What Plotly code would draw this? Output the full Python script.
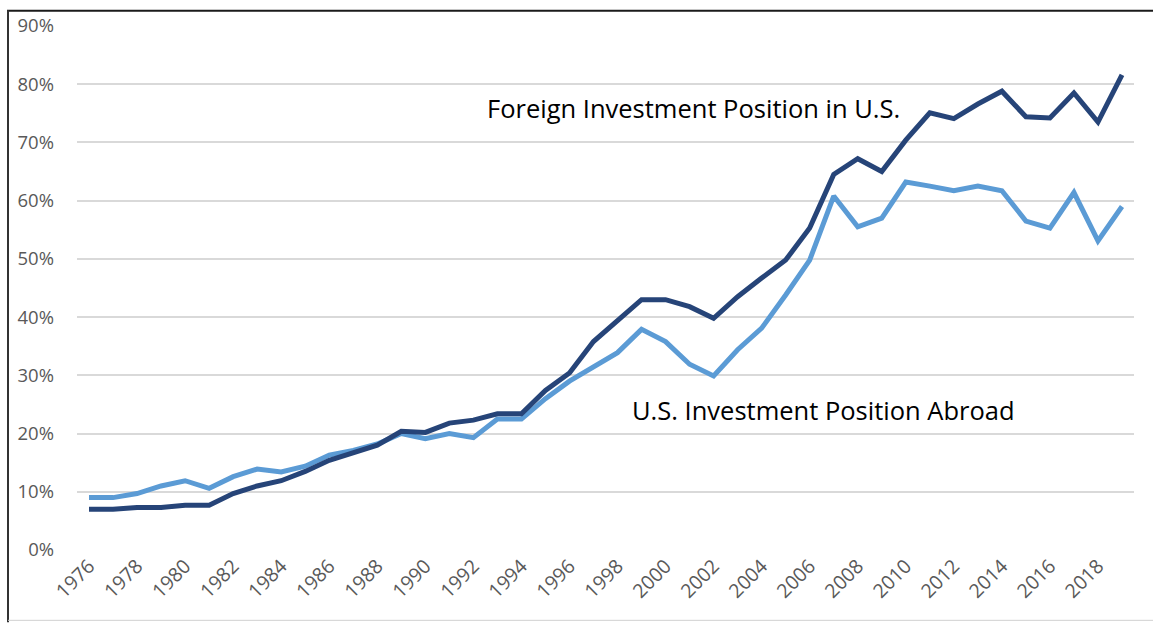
import plotly.graph_objects as go

years = list(range(1976, 2020))
foreign_in_us = [7.0, 7.0, 7.3, 7.3, 7.7, 7.7, 9.7, 11.0, 11.9, 13.5, 15.4, 16.7, 18.0,
                 20.4, 20.2, 21.8, 22.3, 23.4, 23.4, 27.4, 30.4, 35.8, 39.5, 43.0, 43.0,
                 41.8, 39.8, 43.5, 46.7, 49.8, 55.3, 64.5, 67.2, 65.0, 70.4, 75.1, 74.1,
                 76.6, 78.8, 74.4, 74.2, 78.5, 73.5, 81.6]
us_abroad = [9.0, 9.0, 9.7, 11.0, 11.9, 10.6, 12.6, 13.9, 13.4, 14.4, 16.3, 17.1, 18.2,
             20.0, 19.1, 20.0, 19.3, 22.5, 22.5, 26.0, 29.0, 31.4, 33.9, 37.9, 35.8,
             31.9, 29.9, 34.4, 38.1, 43.8, 49.8, 60.8, 55.5, 57.0, 63.2, 62.5, 61.7,
             62.5, 61.7, 56.5, 55.3, 61.4, 53.1, 59.0]
y_ticks = [0, 10, 20, 30, 40, 50, 60, 70, 80, 90]
y_tick_labels = [f"{v}%" for v in y_ticks]
x_ticks = years[::2]
label_foreign = "Foreign Investment Position in U.S."
label_abroad = "U.S. Investment Position Abroad"

W, H = 1153, 623
ML, MR, MT, MB = 77, 19, 21, 73

fig = go.Figure()
fig.add_trace(go.Scatter(x=years, y=us_abroad, mode="lines", name=label_abroad,
                         line=dict(color="#5B9BD5", width=5)))
fig.add_trace(go.Scatter(x=years, y=foreign_in_us, mode="lines", name=label_foreign,
                         line=dict(color="#264478", width=5)))

fig.add_annotation(x=1992.5, y=75.9, text=label_foreign, showarrow=False,
                   xanchor="left", yanchor="middle",
                   font=dict(family="Open Sans", size=25.5, color="#000000"))
fig.add_annotation(x=1998.5, y=24.1, text=label_abroad, showarrow=False,
                   xanchor="left", yanchor="middle",
                   font=dict(family="Open Sans", size=25.5, color="#000000"))

pw = W - ML - MR
ph = H - MT - MB
def px(x):
    return (x - ML) / pw
def py(y):
    return 1 - (y - MT) / ph

# chart frame (top and left dark, bottom light)
fig.add_shape(type="line", xref="paper", yref="paper", x0=px(7), x1=px(W), y0=py(5.5), y1=py(5.5),
              line=dict(color="#1a1a1a", width=2))
fig.add_shape(type="line", xref="paper", yref="paper", x0=px(8), x1=px(8), y0=py(5), y1=py(H),
              line=dict(color="#333333", width=2))
fig.add_shape(type="line", xref="paper", yref="paper", x0=px(8), x1=px(W), y0=py(621), y1=py(621),
              line=dict(color="#d0d0d0", width=1))

fig.update_layout(
    width=W, height=H,
    margin=dict(l=ML, r=MR, t=MT, b=MB),
    plot_bgcolor="white", paper_bgcolor="white",
    showlegend=False,
    font=dict(family="Open Sans", color="#595959"),
    xaxis=dict(range=[1975.5, 2019.5], tickvals=x_ticks, ticktext=[str(v) for v in x_ticks],
               tickangle=-45, tickfont=dict(size=19.5, color="#595959"),
               showgrid=False, zeroline=False, showline=False, ticks=""),
    yaxis=dict(range=[0, 90], tickvals=y_ticks, ticktext=y_tick_labels,
               tickfont=dict(size=18.5, color="#595959"),
               showgrid=True, gridcolor="#D9D9D9", gridwidth=1.5,
               zeroline=False, showline=False, ticks="", ticklabelstandoff=22),
)

fig.write_html("out.html")
